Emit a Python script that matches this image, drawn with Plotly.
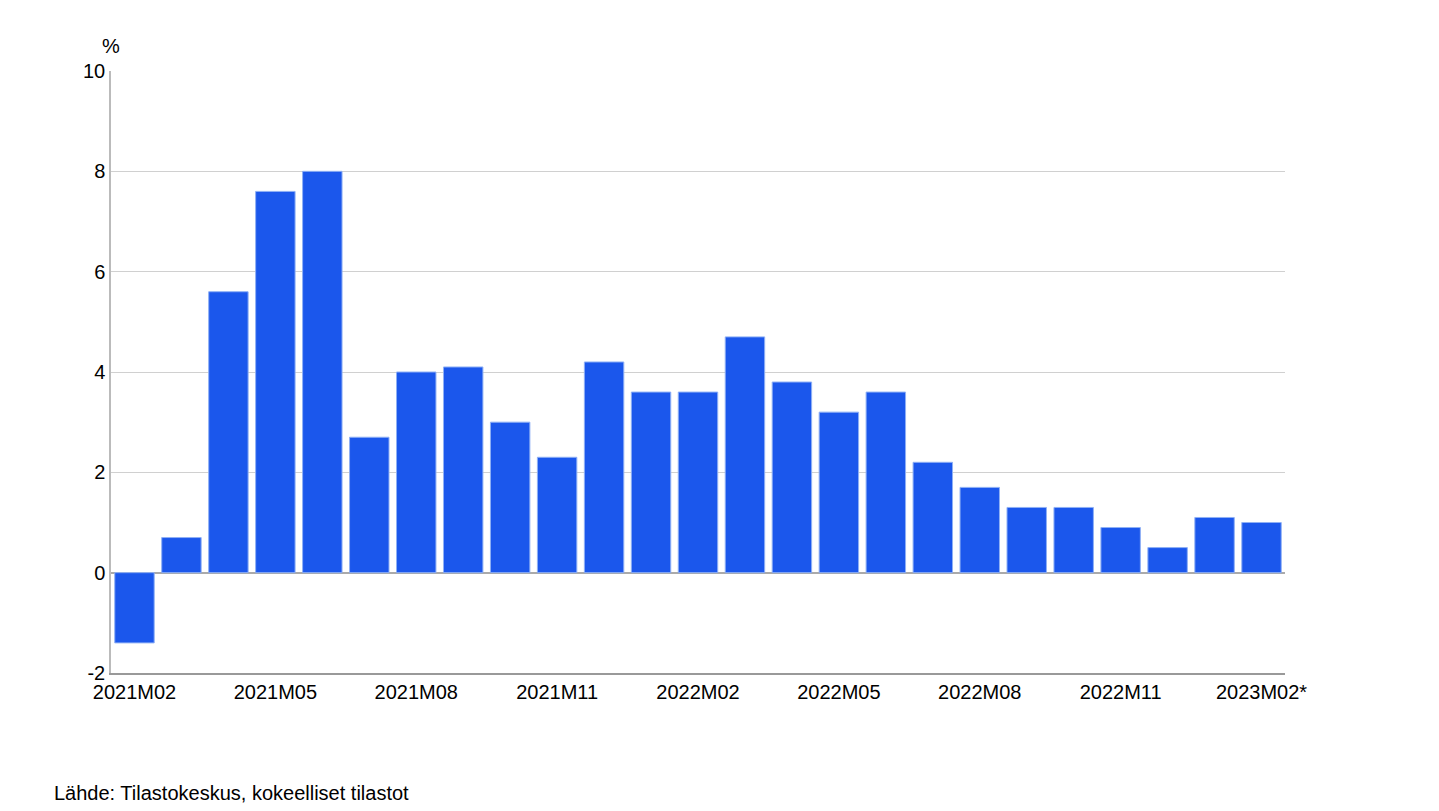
import plotly.graph_objects as go

months = ["2021M02", "2021M03", "2021M04", "2021M05", "2021M06", "2021M07", "2021M08",
          "2021M09", "2021M10", "2021M11", "2021M12", "2022M01", "2022M02", "2022M03",
          "2022M04", "2022M05", "2022M06", "2022M07", "2022M08", "2022M09", "2022M10",
          "2022M11", "2022M12", "2023M01", "2023M02*"]
values = [-1.4, 0.7, 5.6, 7.6, 8.0, 2.7, 4.0, 4.1, 3.0, 2.3, 4.2, 3.6, 3.6, 4.7,
          3.8, 3.2, 3.6, 2.2, 1.7, 1.3, 1.3, 0.9, 0.5, 1.1, 1.0]
tick_labels = months[::3]
y_ticks = [-2, 0, 2, 4, 6, 8, 10]
y_tick_text = ["-2", "0", "2", "4", "6", "8", "10"]

W, H = 1439, 811
OFF = 8  # page body margin
L, R, T, B = 111 - OFF, W - 1285 + OFF, 71 - OFF, H - 673 + OFF
PW, PH = W - L - R, H - T - B

fig = go.Figure(go.Bar(
    x=months, y=values,
    marker=dict(color="#1b57ec", line=dict(color="#8fb0f5", width=1)),
))

fig.update_layout(
    width=W, height=H,
    margin=dict(l=L, r=R, t=T, b=B, autoexpand=False),
    paper_bgcolor="white", plot_bgcolor="white",
    bargap=0.16,
    showlegend=False,
    font=dict(family="Liberation Sans, Arial, sans-serif", size=20, color="#000"),
    xaxis=dict(
        type="category", tickvals=tick_labels, ticktext=tick_labels,
        showline=True, linecolor="#999", linewidth=1.5,
        ticks="", showgrid=False,
    ),
    yaxis=dict(
        range=[-2, 10], tickvals=y_ticks, ticktext=y_tick_text, ticks="",
        showline=True, linecolor="#bbb", linewidth=1.5,
        gridcolor="#d0d0d0", gridwidth=1,
        zeroline=True, zerolinecolor="#aaa", zerolinewidth=1.5,
        ticklabelstandoff=0,
    ),
    annotations=[
        dict(text="%", xref="paper", yref="paper", x=0, y=1, yshift=12,
             xanchor="center", yanchor="bottom", showarrow=False),
        dict(text="Lähde: Tilastokeskus, kokeelliset tilastot", xref="paper", yref="paper",
             x=(52 - OFF - L) / PW, y=-(793 - OFF - (H - B)) / PH,
             xanchor="left", yanchor="middle", showarrow=False),
    ],
)

fig.write_html("out.html")
